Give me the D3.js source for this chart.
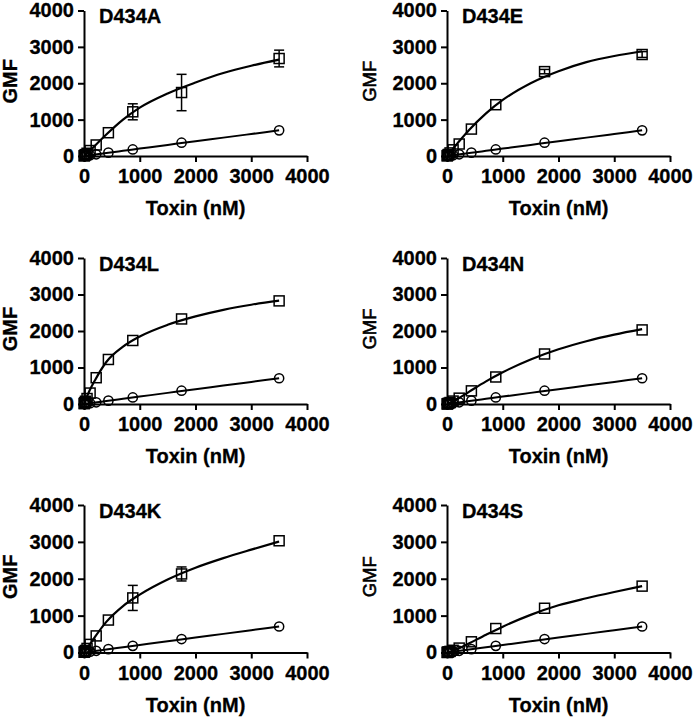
<!DOCTYPE html>
<html>
<head>
<meta charset="utf-8">
<script src="https://cdn.jsdelivr.net/npm/d3@7"></script>
<style>
  html, body { margin: 0; padding: 0; background: #fff; }
  svg { display: block; font-family: "Liberation Sans", Arial, sans-serif; }
</style>
</head>
<body>
<svg id="chart" width="693" height="719"></svg>
<script>
// ---- data ----
const panelNames = ["D434A", "D434E", "D434L", "D434N", "D434K", "D434S"];
const toxinConc = [3500, 1750, 875, 437.5, 218.75, 109.4, 54.7, 27.3, 13.7, 6.8, 3.4];
const axisTicks = [0, 1000, 2000, 3000, 4000];

// open circles (control), same in every panel
const controlGMF = [705, 365, 180, 92, 46, 23, 12, 6, 3, 2, 1];

// open squares (mutant) per panel
const gmfA = [2680, 1745, 1215, 640, 303, 150, 75, 38, 19, 10, 5];
const gmfE = [2790, 2320, 1410, 740, 330, 170, 85, 43, 22, 11, 5];
const gmfL = [2825, 2330, 1740, 1220, 720, 300, 150, 75, 38, 19, 9];
const gmfN = [2030, 1370, 740, 360, 160, 80, 40, 20, 10, 5, 2];
const gmfK = [3030, 2130, 1480, 880, 450, 220, 110, 55, 28, 14, 7];
const gmfS = [1800, 1200, 650, 290, 120, 60, 30, 15, 8, 4, 2];

// error bars (+/-) for the squares
const errA = [230, 500, 220, 0, 0, 0, 0, 0, 0, 0, 0];
const errE = [80, 60, 0, 0, 0, 0, 0, 0, 0, 0, 0];
const errL = [0, 0, 0, 0, 0, 0, 0, 0, 0, 0, 0];
const errN = [0, 0, 0, 0, 0, 0, 0, 0, 0, 0, 0];
const errK = [0, 190, 340, 0, 0, 0, 0, 0, 0, 0, 0];
const errS = [0, 0, 0, 0, 0, 0, 0, 0, 0, 0, 0];

// fitted curves, read at these x values
const fitX = [0, 100, 200, 400, 700, 1000, 1500, 2000, 2500, 3000, 3500];
const fitA = [0, 130, 290, 590, 1000, 1330, 1720, 2020, 2280, 2480, 2650];
const fitE = [0, 190, 370, 720, 1170, 1540, 2000, 2330, 2580, 2750, 2880];
const fitL = [0, 370, 660, 1150, 1570, 1850, 2170, 2400, 2580, 2720, 2830];
const fitN = [0, 60, 150, 340, 620, 870, 1220, 1500, 1720, 1900, 2050];
const fitK = [0, 210, 430, 830, 1260, 1570, 1980, 2300, 2560, 2790, 3010];
const fitS = [0, 40, 100, 250, 480, 700, 1020, 1280, 1470, 1640, 1800];
const fitControl = [0, 20, 40, 81, 142, 203, 305, 407, 505, 605, 705];

const squaresAll = [gmfA, gmfE, gmfL, gmfN, gmfK, gmfS];
const errAll = [errA, errE, errL, errN, errK, errS];
const fitAll = [fitA, fitE, fitL, fitN, fitK, fitS];

// ---- layout ----
const colX = [[84, 307], [447, 670]];
const rowY = [[10.5, 156], [258, 404], [505, 652.5]];

const svg = d3.select("#chart");
const FS = 20;

panelNames.forEach((name, i) => {
  const col = i % 2, row = Math.floor(i / 2);
  const [x0, x1] = colX[col];
  const [yTop, yBase] = rowY[row];
  const x = d3.scaleLinear().domain([0, 4000]).range([x0, x1]);
  const y = d3.scaleLinear().domain([0, 4000]).range([yBase, yTop]);
  const g = svg.append("g");

  // axes
  const xa = g.append("g").attr("transform", `translate(0,${yBase})`)
    .call(d3.axisBottom(x).tickValues(axisTicks).tickFormat(d3.format("d"))
      .tickSize(6).tickSizeOuter(0).tickPadding(7));
  const ya = g.append("g").attr("transform", `translate(${x0},0)`)
    .call(d3.axisLeft(y).tickValues(axisTicks).tickFormat(d3.format("d"))
      .tickSize(6).tickSizeOuter(0).tickPadding(4));
  [xa, ya].forEach(a => {
    a.select(".domain").attr("stroke", "#000").attr("stroke-width", 2);
    a.selectAll(".tick line").attr("stroke", "#000").attr("stroke-width", 2);
    a.selectAll(".tick text").attr("fill", "#000")
      .attr("font-size", FS).attr("font-weight", "bold")
      .attr("stroke", "#000").attr("stroke-width", 0.3)
      .attr("font-family", "'Liberation Sans', Arial, sans-serif");
  });

  // title
  g.append("text").attr("x", x0 + 15).attr("y", yTop + 12.5)
    .attr("font-size", 20).attr("font-weight", "bold")
    .attr("stroke", "#000").attr("stroke-width", 0.3).text(name);

  // axis titles
  g.append("text").attr("x", (x0 + x1) / 2).attr("y", yBase + 59)
    .attr("text-anchor", "middle").attr("font-size", 20).attr("font-weight", "bold")
    .attr("stroke", "#000").attr("stroke-width", 0.3)
    .text("Toxin (nM)");
  const gx = col === 0 ? 10 : 369;
  const gy = (yTop + yBase) / 2 - 2;
  g.append("text").attr("transform", `translate(${gx},${gy}) rotate(-90)`)
    .attr("text-anchor", "middle").attr("dy", "0.36em")
    .attr("font-size", col === 0 ? 20 : 18.5)
    .attr("font-weight", col === 0 ? "bold" : "normal")
    .attr("stroke", "#000").attr("stroke-width", col === 0 ? 0.3 : 0.6)
    .text("GMF");

  const line = d3.line().x(d => x(d[0])).y(d => y(d[1])).curve(d3.curveMonotoneX);

  // fitted curves
  g.append("path").datum(fitX.map((v, k) => [v, fitControl[k]]))
    .attr("d", line).attr("fill", "none").attr("stroke", "#000").attr("stroke-width", 2);
  g.append("path").datum(fitX.map((v, k) => [v, fitAll[i][k]]))
    .attr("d", line).attr("fill", "none").attr("stroke", "#000").attr("stroke-width", 2.2);

  // control circles
  g.selectAll("circle.c").data(toxinConc.map((v, k) => [v, controlGMF[k]]))
    .join("circle").attr("class", "c")
    .attr("cx", d => x(d[0])).attr("cy", d => y(d[1])).attr("r", 4.6)
    .attr("fill", "none").attr("stroke", "#000").attr("stroke-width", 1.5);

  // error bars
  const errData = toxinConc.map((v, k) => [v, squaresAll[i][k], errAll[i][k]]).filter(d => d[2] > 0);
  const eb = g.selectAll("g.eb").data(errData).join("g").attr("class", "eb");
  eb.append("line").attr("x1", d => x(d[0])).attr("x2", d => x(d[0]))
    .attr("y1", d => y(d[1] - d[2])).attr("y2", d => y(d[1] + d[2]))
    .attr("stroke", "#000").attr("stroke-width", 1.5);
  eb.append("line").attr("x1", d => x(d[0]) - 5).attr("x2", d => x(d[0]) + 5)
    .attr("y1", d => y(d[1] + d[2])).attr("y2", d => y(d[1] + d[2]))
    .attr("stroke", "#000").attr("stroke-width", 1.5);
  eb.append("line").attr("x1", d => x(d[0]) - 5).attr("x2", d => x(d[0]) + 5)
    .attr("y1", d => y(d[1] - d[2])).attr("y2", d => y(d[1] - d[2]))
    .attr("stroke", "#000").attr("stroke-width", 1.5);

  // mutant squares
  g.selectAll("rect.s").data(toxinConc.map((v, k) => [v, squaresAll[i][k]]))
    .join("rect").attr("class", "s")
    .attr("x", d => x(d[0]) - 5).attr("y", d => y(d[1]) - 5)
    .attr("width", 10).attr("height", 10)
    .attr("fill", "none").attr("stroke", "#000").attr("stroke-width", 1.5);
});
</script>
</body>
</html>
